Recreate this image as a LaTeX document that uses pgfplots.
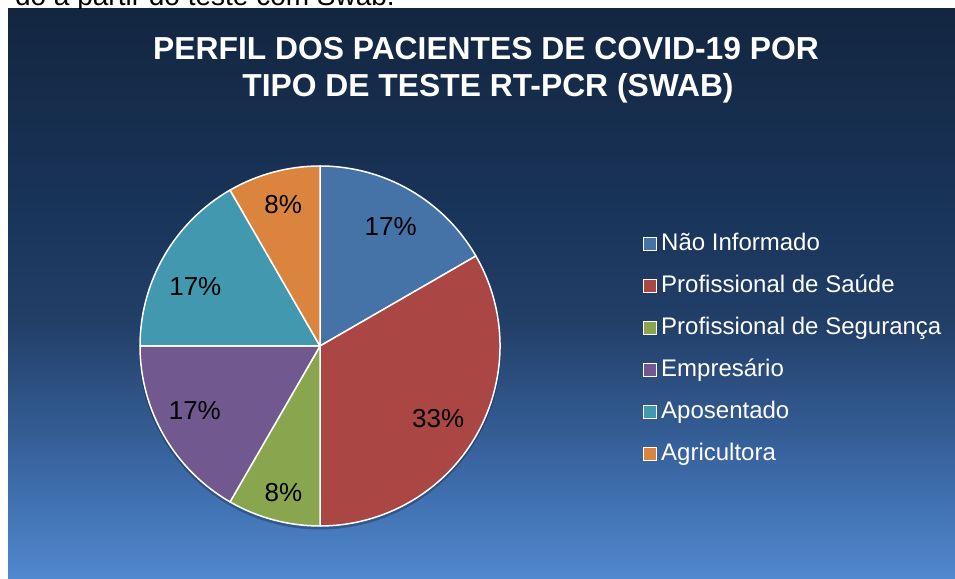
\documentclass[border=0pt]{standalone}
\usepackage{pgfplots}
\pgfplotsset{compat=1.18}
\usepackage{pgfplotstable}
\usepackage{fontspec}
\setmainfont{Liberation Sans}

\definecolor{s0}{HTML}{4572A7}
\definecolor{s1}{HTML}{AA4643}
\definecolor{s2}{HTML}{89A54E}
\definecolor{s3}{HTML}{71588F}
\definecolor{s4}{HTML}{4198AF}
\definecolor{s5}{HTML}{DB843D}

\definecolor{b0}{HTML}{5089CF}
\definecolor{b1}{HTML}{4374B5}
\definecolor{b2}{HTML}{355E96}
\definecolor{b3}{HTML}{223F68}
\definecolor{b4}{HTML}{193459}
\definecolor{b5}{HTML}{132640}
% TikZ maps the path onto 25bp..75bp of the shading
\pgfdeclareverticalshading{bgshade}{100bp}{color(0bp)=(b0); color(25bp)=(b0); color(31bp)=(b1); color(37.5bp)=(b2); color(47.5bp)=(b3); color(57.5bp)=(b4); color(75bp)=(b5); color(100bp)=(b5)}

\newcommand\lblfont{\fontsize{26bp}{26bp}\selectfont}
\newcommand\legfont{\fontsize{24bp}{24bp}\selectfont}
\newcommand\titfont{\fontsize{31.8bp}{31.8bp}\selectfont\bfseries}

% value = share in %, la/ld = angle and distance of the data label
\pgfplotstableread[col sep=comma]{
label,value,la,ld
Não Informado,16.67,59.4,139
Profissional de Saúde,33.33,-31.7,139
Profissional de Segurança,8.33,-104,151
Empresário,16.67,-152.6,141
Aposentado,16.67,154.6,138
Agricultora,8.33,104.6,146
}\piedata

\begin{document}
\begin{tikzpicture}
\begin{axis}[
  at={(0,0)}, anchor=south west,
  width=955bp, height=579bp, scale only axis,
  xmin=0, xmax=955, ymin=0, ymax=579,
  hide axis, clip=false,
  legend style={at={(axis cs:643,346)}, anchor=north west, draw=none, fill=none,
    text=white, font=\legfont, inner sep=0pt, row sep=20bp,
    nodes={inner sep=0pt, text height=17bp, text depth=5bp},
    /tikz/every odd column/.append style={column sep=4bp}},
  legend cell align=left,
  legend image code/.code={\draw[#1, draw=white, line width=1.2bp] (0.6bp,-6.4bp) rectangle (13.4bp,6.4bp);},
]
\shade[shading=bgshade] (axis cs:8,0) rectangle (axis cs:955,570);
\begin{scope}
\clip (axis cs:0,570) rectangle (axis cs:955,579);
\node[anchor=base east, font=\fontsize{28bp}{28bp}\selectfont, text=black, inner sep=0pt] at (axis cs:395,573) {do a partir do teste com Swab.};
\end{scope}
\node[anchor=base, text=white, font=\titfont, inner sep=0pt] at (axis cs:486,519.5) {PERFIL DOS PACIENTES DE COVID-19 POR};
\node[anchor=base, text=white, font=\titfont, inner sep=0pt] at (axis cs:488,482.3) {TIPO DE TESTE RT-PCR (SWAB)};

\fill[black, opacity=0.25] (axis cs:320,230.5) circle[radius=181bp];

\pgfplotstablegetrowsof{\piedata}
\pgfmathtruncatemacro\N{\pgfplotsretval-1}
\def\cum{90}
\pgfplotsforeachungrouped \i in {0,...,\N}{%
  \pgfplotstablegetelem{\i}{value}\of\piedata
  \let\v\pgfplotsretval
  \pgfplotstablegetelem{\i}{la}\of\piedata
  \let\la\pgfplotsretval
  \pgfplotstablegetelem{\i}{ld}\of\piedata
  \let\ld\pgfplotsretval
  \pgfmathsetmacro\a{\cum}%
  \pgfmathsetmacro\b{\cum-3.6*\v}%
  \pgfmathtruncatemacro\lab{round(\v)}%
  \edef\temp{\noexpand\fill[fill=s\i, draw=white, line width=1.5bp, line join=round] (axis cs:320,233) -- ++(\a:180bp) arc[start angle=\a, end angle=\b, radius=180bp] -- cycle;}%
  \temp
  \edef\temp{\noexpand\node[font=\noexpand\lblfont, text=black] at ([shift={(\la:\ld bp)}]axis cs:320,233) {\lab\noexpand\%};}%
  \temp
  \let\cum\b
}
\addlegendimage{fill=s0}\addlegendentry{Não Informado}
\addlegendimage{fill=s1}\addlegendentry{Profissional de Saúde}
\addlegendimage{fill=s2}\addlegendentry{Profissional de Segurança}
\addlegendimage{fill=s3}\addlegendentry{Empresário}
\addlegendimage{fill=s4}\addlegendentry{Aposentado}
\addlegendimage{fill=s5}\addlegendentry{Agricultora}
\end{axis}
\pgfresetboundingbox
\path (0,0) rectangle (955bp,579bp);
\end{tikzpicture}
\end{document}
